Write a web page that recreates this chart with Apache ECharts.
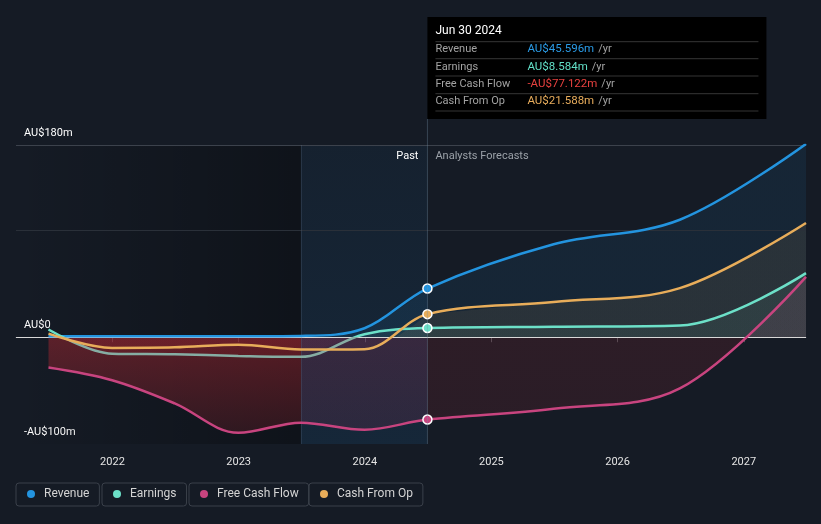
<!DOCTYPE html>
<html>
<head>
<meta charset="utf-8">
<script src="https://cdn.jsdelivr.net/npm/echarts@6/dist/echarts.min.js"></script>
<style>
html,body{margin:0;padding:0;background:#151b25;}
#chart{width:821px;height:524px;}
</style>
</head>
<body>
<div id="chart"></div>
<script>
// ---------- data ----------
const dates = ['2021-06-30','2021-12-31','2022-06-30','2022-12-31','2023-06-30','2023-12-31','2024-06-30','2025-06-30','2026-06-30','2027-06-30'];
const pastCount = 7; // first 7 points are reported, rest are analyst forecasts
const revenue      = [0.8, 0.8, 0.8, 0.9, 1.2, 8.4, 45.596, 87, 110, 181];
const earnings     = [7.2, -15.5, -16, -17.5, -18.4, 2.8, 8.584, 9.8, 11, 60];
const freeCashFlow = [-28.4, -40.3, -62, -89.5, -80, -86.6, -77.122, -67, -48, 56.5];
const cashFromOp   = [3.4, -10, -9.5, -7, -11.5, -11.2, 21.588, 33, 46, 107];
const seriesNames  = ['Revenue', 'Earnings', 'Free Cash Flow', 'Cash From Op'];
const yTickLabels  = {'180': 'AU$180m', '0': 'AU$0', '-100': '-AU$100m'};
const gridLineValues = [180, 100];
const axisStart = '2021-03-28';
const pastBandStart = '2023-06-30';

// ---------- helpers ----------
const t = s => { const [y, m, d] = s.split('-').map(Number); return new Date(y, m - 1, d).getTime(); };
const months = ['Jan','Feb','Mar','Apr','May','Jun','Jul','Aug','Sep','Oct','Nov','Dec'];
const fmtDate = s => { const d = new Date(t(s)); return months[d.getMonth()] + ' ' + d.getDate() + ' ' + d.getFullYear(); };
const fmtVal = v => (v < 0 ? '-' : '') + 'AU$' + Math.abs(v).toFixed(3) + 'm';

const RED = a => 'rgba(190,40,50,' + a + ')';
const MAUVE = a => 'rgba(190,55,100,' + a + ')';
const metrics = [
  {name: seriesNames[0], values: revenue, color: '#2394df', negLine: null, text: '#2a9be6',
   pos: 'rgba(35,148,223,0.09)',
   neg: {pre: [RED(0), RED(0)], band: [MAUVE(0), MAUVE(0)], fut: [RED(0.1), RED(0.1)]}},
  {name: seriesNames[1], values: earnings, color: '#6ce0c8', negLine: '#86ada3', text: '#62e0c8',
   pos: 'rgba(108,224,200,0.07)',
   neg: {pre: [RED(0.09), RED(0.09)], band: [MAUVE(0.06), MAUVE(0.06)], fut: [RED(0.1), RED(0.1)]}},
  {name: seriesNames[2], values: freeCashFlow, color: '#c8447f', negLine: null, text: '#e8413f',
   pos: 'rgba(200,68,127,0.10)',
   neg: {pre: [RED(0.42), RED(0.15)], band: [MAUVE(0.2), MAUVE(0.12)], fut: [RED(0.14), RED(0.12)]}},
  {name: seriesNames[3], values: cashFromOp, color: '#e8ad5a', negLine: null, text: '#e9ad5c',
   pos: 'rgba(232,173,90,0.09)',
   neg: {pre: [RED(0.09), RED(0.09)], band: [MAUVE(0.06), MAUVE(0.06)], fut: [RED(0.1), RED(0.1)]}}
];

const SMOOTH = 0.35;
const toData = (vals, from, to) => dates.slice(from, to).map((d, i) => [t(d), vals[from + i]]);

const legendLefts = [16, 102, 189, 309];
const legends = seriesNames.map((n, i) => ({
  data: [n], left: legendLefts[i], top: 483, icon: 'circle', itemWidth: 8, itemHeight: 8,
  itemStyle: {borderWidth: 0},
  borderColor: '#3a404a', borderWidth: 1, borderRadius: 3, padding: [5, 10, 6, 11],
  textStyle: {color: '#d4d4d4', fontSize: 12, fontFamily: 'Roboto', padding: [0, 0, 0, 4]},
  selectedMode: false
}));

const chart = echarts.init(document.getElementById('chart'), null, {renderer: 'canvas'});
// phase 1: axes only, so the scales can be queried
chart.setOption({
  backgroundColor: '#151b25',
  animation: false,
  grid: {left: 16, right: 15, top: 145, bottom: 80, containLabel: false},
  legend: legends,
  xAxis: {
    type: 'time', min: t(axisStart), max: t(dates[dates.length - 1]),
    minInterval: 365 * 864e5, maxInterval: 366 * 864e5,
    splitLine: {show: false},
    axisLine: {lineStyle: {color: '#4a5059', width: 1}},
    axisTick: {show: true, length: 5, lineStyle: {color: '#4a5059'}},
    axisLabel: {color: '#e4e4e4', fontSize: 11, fontFamily: 'Roboto', margin: 13,
      formatter: v => String(new Date(v).getFullYear())}
  },
  yAxis: {
    type: 'value', min: -100, max: 180, interval: 20,
    splitLine: {show: false}, axisLine: {show: false}, axisTick: {show: false},
    axisLabel: {inside: true, color: '#ffffff', fontSize: 11, fontFamily: 'Roboto',
      verticalAlign: 'bottom', margin: 8, padding: [0, 0, 6, 0],
      formatter: v => yTickLabels[String(v)] || ''}
  },
  series: seriesNames.map(n => ({name: n, type: 'line', data: []}))
});

const yPix = v => chart.convertToPixel({yAxisIndex: 0}, v);
const yTop = yPix(180), yBot = yPix(-100), yZero = yPix(0);
const f0 = (yZero - yTop) / (yBot - yTop);
// vertical gradient across the whole plot: one colour above zero, a fading one below
const signGrad = (pos, negTop, negBot) => new echarts.graphic.LinearGradient(0, yTop, 0, yBot, [
  {offset: 0, color: pos}, {offset: f0, color: pos},
  {offset: f0, color: negTop}, {offset: 1, color: negBot}
], true);

const bandIdx = dates.indexOf(pastBandStart);
const segments = [
  {key: 'pre', from: 0, to: bandIdx + 1},
  {key: 'band', from: bandIdx, to: pastCount},
  {key: 'fut', from: pastCount - 1, to: dates.length}
];

const series = [];
// lines (first, so the legend takes their colours)
metrics.forEach(m => {
  series.push({
    name: m.name, type: 'line', data: toData(m.values, 0, dates.length), smooth: SMOOTH,
    showSymbol: true, symbol: 'circle',
    symbolSize: (v, p) => p.dataIndex === pastCount - 1 ? 9 : 0,
    itemStyle: {color: m.color, borderColor: '#ffffff', borderWidth: 1.5},
    lineStyle: {color: m.negLine ? signGrad(m.color, m.negLine, m.negLine) : m.color, width: 2.5},
    z: 4, silent: true
  });
});
// area fills, split at the band edges
metrics.forEach(m => {
  segments.forEach(s => {
    series.push({
      name: m.name, type: 'line', data: toData(m.values, s.from, s.to), smooth: SMOOTH,
      symbol: 'none', lineStyle: {width: 0, opacity: 0}, silent: true, z: 2,
      areaStyle: {color: signGrad(m.pos, m.neg[s.key][0], m.neg[s.key][1]), opacity: 1}
    });
  });
});
// background bands + gridlines
series.push({
  name: '_bands', type: 'line', data: [[t(dates[0]), 0]], symbol: 'none',
  lineStyle: {opacity: 0}, silent: true, z: 1,
  markArea: {
    silent: true, z: 1,
    data: [
      [{xAxis: t(axisStart), itemStyle: {color: new echarts.graphic.LinearGradient(0, 0, 1, 0, [
          {offset: 0, color: 'rgba(0,0,0,0)'}, {offset: 1, color: 'rgba(0,0,0,0.3)'}])}},
       {xAxis: t(pastBandStart)}],
      [{xAxis: t(pastBandStart), itemStyle: {color: new echarts.graphic.LinearGradient(0, 0, 0, 1, [
          {offset: 0, color: 'rgba(24,77,120,0.12)'}, {offset: 1, color: 'rgba(24,77,120,0.24)'}])}},
       {xAxis: t(dates[pastCount - 1])}]
    ]
  },
  markLine: {
    silent: true, symbol: 'none', label: {show: false}, z: 3,
    data: gridLineValues.map((v, i) => ({yAxis: v, lineStyle: {color: i === 0 ? '#3c424c' : '#2a3039', width: 1, type: 'solid'}}))
      .concat([{yAxis: 0, lineStyle: {color: '#d8d8d8', width: 1, type: 'solid'}}])
      .concat([{xAxis: t(pastBandStart), lineStyle: {color: 'rgba(120,145,170,0.18)', width: 1, type: 'solid'}}])
  }
});

chart.setOption({series: series});

// ---------- overlay: divider, labels, info box ----------
const lastPast = dates[pastCount - 1];
const px = chart.convertToPixel({xAxisIndex: 0}, t(lastPast));
const boxTop = 17, boxW = 339, boxH = 102;

const ctx = document.createElement('canvas').getContext('2d');
const valFont = '11.5px Roboto';
ctx.font = valFont;

const g = [];
g.push({type: 'line', shape: {x1: px, y1: boxTop + boxH, x2: px, y2: yBot}, style: {stroke: 'rgba(120,145,170,0.35)', lineWidth: 1}, z: 50, silent: true});
g.push({type: 'text', x: px - 9, y: yTop + 11, style: {text: 'Past', fill: '#ffffff', font: '11px Roboto', textAlign: 'right', textVerticalAlign: 'middle'}, z: 50, silent: true});
g.push({type: 'text', x: px + 8, y: yTop + 11, style: {text: 'Analysts Forecasts', fill: '#9ba1a8', font: '11px Roboto', textAlign: 'left', textVerticalAlign: 'middle'}, z: 50, silent: true});
g.push({type: 'rect', shape: {x: px, y: boxTop, width: boxW, height: boxH}, style: {fill: '#000000'}, z: 50, silent: true});
g.push({type: 'text', x: px + 8, y: boxTop + 14, style: {text: fmtDate(lastPast), fill: '#ffffff', font: '12px Roboto', textAlign: 'left', textVerticalAlign: 'middle'}, z: 51, silent: true});
const sepOffsets = [24.7, 41.7, 59, 76.7, 94];
sepOffsets.forEach(o => g.push({type: 'line', shape: {x1: px + 8, y1: boxTop + o, x2: px + boxW - 8, y2: boxTop + o}, style: {stroke: '#353535', lineWidth: 1}, z: 51, silent: true}));
metrics.forEach((m, i) => {
  const y = boxTop + 32.5 + i * 17.3;
  const v = fmtVal(m.values[pastCount - 1]);
  g.push({type: 'text', x: px + 8, y: y, style: {text: m.name, fill: '#a3a3a3', font: '11px Roboto', textAlign: 'left', textVerticalAlign: 'middle'}, z: 51, silent: true});
  g.push({type: 'text', x: px + 100, y: y, style: {text: v, fill: m.text, font: valFont, textAlign: 'left', textVerticalAlign: 'middle'}, z: 51, silent: true});
  g.push({type: 'text', x: px + 100 + ctx.measureText(v).width + 4, y: y, style: {text: '/yr', fill: '#a3a3a3', font: '11px Roboto', textAlign: 'left', textVerticalAlign: 'middle'}, z: 51, silent: true});
});
chart.setOption({graphic: {elements: g}});
</script>
</body>
</html>
